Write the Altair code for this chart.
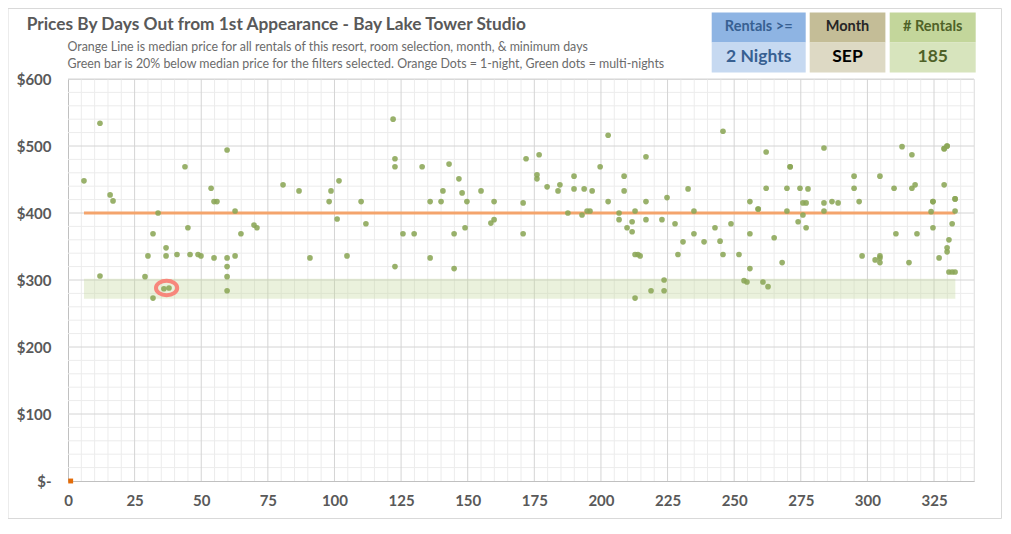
import altair as alt
import pandas as pd

# ---------------- data ----------------
days = [12.0, 6.0, 15.8, 16.9, 43.9, 59.7, 53.7, 54.8, 55.9, 80.7,
        33.8, 62.7, 45.0, 31.9, 69.8, 70.9, 64.9, 36.8, 30.0, 36.8,
        40.9, 45.8, 48.8, 49.9, 54.8, 59.7, 62.7, 59.7, 59.7, 12.0,
        28.9, 36.0, 37.9, 31.9, 59.7,
        86.7, 90.8, 98.0, 98.7, 101.7, 101.0, 104.7, 110.0, 111.8, 122.0,
        122.7, 122.7, 122.7, 125.7, 129.9, 132.9, 135.9, 135.9, 140.0, 140.7,
        143.0, 146.7, 147.9, 144.9, 144.9, 149.0, 149.7, 155.0, 159.9, 158.7,
        159.9,
        170.8, 170.8, 171.9, 176.0, 176.0, 176.8, 179.8, 183.9, 184.6, 187.6,
        189.9, 189.9, 192.9, 193.7, 194.8, 195.9, 196.7, 199.7, 202.7, 202.7,
        206.8, 206.8, 208.7, 208.7, 209.8, 211.7, 211.7, 212.8, 212.8, 213.9,
        214.7, 212.8, 216.9, 216.9, 216.9, 218.8, 222.9, 223.7, 223.7, 224.8,
        227.8, 228.9, 230.8, 232.7, 234.9, 234.9, 238.7, 242.8, 244.7, 245.8,
        245.8,
        248.8, 251.8, 253.7, 254.8, 255.9, 255.9, 255.9, 259.0, 259.0, 260.8,
        262.0, 262.0, 262.7, 265.0, 268.0, 269.8, 269.8, 271.0, 271.0, 274.0,
        274.7, 275.8, 277.0, 275.8, 277.0, 277.7, 283.7, 283.7, 283.7, 286.7,
        289.0, 295.0, 295.0, 296.9, 298.0, 302.9, 304.7, 304.7, 304.7, 304.7,
        310.0, 310.7, 313.0, 315.6, 316.7, 316.7, 317.9, 318.6, 323.9, 324.6,
        324.6, 324.6, 326.9, 328.8, 328.8, 329.9, 329.9, 328.8, 329.9, 329.9,
        330.6, 331.8, 332.9, 332.9, 332.9, 330.6, 331.8, 332.9]
prices = [534, 448, 427, 418, 469, 494, 437, 417, 417, 442,
          400, 403, 378, 369, 382, 378, 369, 348, 336, 336,
          338, 338, 338, 336, 333, 333, 336, 320, 305, 306,
          305, 287, 288, 273, 284,
          433, 333, 417, 433, 448, 391, 336, 417, 384, 540,
          481, 469, 320, 369, 369, 469, 417, 333, 417, 433,
          473, 451, 430, 369, 317, 378, 417, 433, 417, 385,
          390,
          415, 369, 481, 457, 451, 487, 439, 433, 442, 400,
          455, 436, 397, 436, 403, 403, 433, 469, 516, 417,
          400, 390, 455, 433, 378, 387, 372, 403, 338, 338,
          336, 273, 484, 417, 390, 284, 390, 300, 284, 423,
          384, 338, 357, 436, 403, 369, 357, 378, 358, 522,
          338,
          384, 338, 299, 297, 417, 369, 317, 406, 406, 297,
          491, 437, 290, 363, 326, 437, 403, 469, 469, 387,
          437, 415, 415, 397, 378, 436, 497, 415, 403, 417,
          415, 455, 437, 417, 336, 330, 336, 333, 326, 455,
          437, 369, 499, 326, 487, 437, 442, 369, 402, 417,
          417, 378, 333, 496, 496, 500, 500, 442, 348, 342,
          360, 384, 421, 421, 403, 312, 312, 312]

one_night_days = [1]
one_night_prices = [0]

median_price = 400
band_low, band_high = 272, 302
line_start, line_end = 6, 333

highlight_day = [37]
highlight_price = [288]

x_major = list(range(0, 326, 25))
x_minor = [v for v in range(5, 341, 5) if v % 25 != 0]
y_major = list(range(0, 601, 100))
y_minor = [v for v in range(20, 601, 20) if v % 100 != 0]

title_text = "Prices By Days Out from 1st Appearance - Bay Lake Tower Studio"
sub1 = "Orange Line is median price for all rentals of this resort, room selection, month, & minimum days"
sub2 = "Green bar is 20% below median price for the filters selected. Orange Dots = 1-night, Green dots = multi-nights"
box_heads = ["Rentals >=", "Month", "# Rentals"]
box_vals = ["2 Nights", "SEP", "185"]

# ---------------- chart ----------------
FONT = "Lato"
GRAY = "#595959"
xs = alt.Scale(domain=[0, 340], nice=False, zero=True)
ys = alt.Scale(domain=[0, 600], nice=False, zero=True)

xaxis = alt.Axis(values=x_major, grid=False, ticks=False, domain=True,
                 domainColor="#c0c0c0", labelFont=FONT, labelFontSize=15,
                 labelFontWeight="bold", labelColor=GRAY, labelPadding=12,
                 labelFlush=False, title=None)
yaxis = alt.Axis(values=y_major, grid=False, ticks=False, domain=True,
                 domainColor="#c0c0c0", labelFont=FONT, labelFontSize=15,
                 labelFontWeight="bold", labelColor=GRAY, labelPadding=17,
                 labelExpr="datum.value == 0 ? '$-' : '$' + datum.value", title=None)

def X(f):
    return alt.X(f, scale=xs, axis=xaxis, title=None)

def Y(f):
    return alt.Y(f, scale=ys, axis=yaxis, title=None)

df = pd.DataFrame({"day": days, "price": prices})
one_df = pd.DataFrame({"day": one_night_days, "price": one_night_prices})
hl_df = pd.DataFrame({"day": highlight_day, "price": highlight_price})
band_df = pd.DataFrame({"x1": [line_start], "x2": [line_end],
                        "y1": [band_low], "y2": [band_high], "m": [median_price]})
one = pd.DataFrame({"a": [0]})

border = alt.Chart(one).mark_rect(fillOpacity=0, stroke="#d9d9d9", strokeWidth=1).encode(
    x=alt.value(-60), x2=alt.value(933.5), y=alt.value(-70.5), y2=alt.value(439.5))

gx_minor = alt.Chart(pd.DataFrame({"g": x_minor})).mark_rule(color="#ececec", strokeWidth=1).encode(
    x=X("g:Q"))
gy_minor = alt.Chart(pd.DataFrame({"g": y_minor})).mark_rule(color="#ececec", strokeWidth=1).encode(
    y=Y("g:Q"))
gx_major = alt.Chart(pd.DataFrame({"g": x_major[1:]})).mark_rule(color="#d4d4d4", strokeWidth=1).encode(
    x=X("g:Q"))
gy_major = alt.Chart(pd.DataFrame({"g": y_major[1:]})).mark_rule(color="#d4d4d4", strokeWidth=1).encode(
    y=Y("g:Q"))

band = alt.Chart(band_df).mark_rect(color="#C4D79B", opacity=0.35).encode(
    x=X("x1:Q"), x2="x2:Q", y=Y("y1:Q"), y2="y2:Q")
med = alt.Chart(band_df).mark_rule(color="#F4A46C", strokeWidth=3).encode(
    x=X("x1:Q"), x2="x2:Q", y=Y("m:Q"))

pts = alt.Chart(df).mark_circle(size=32, color="#8BA657", opacity=0.88).encode(
    x=X("day:Q"), y=Y("price:Q"))

onept = alt.Chart(one_df).mark_point(shape="square", filled=True, size=24, color="#E36C09", opacity=1).encode(
    x=X("day:Q"), y=Y("price:Q"))

ellipse = "M -1 0 A 1 0.68 0 1 0 1 0 A 1 0.68 0 1 0 -1 0 Z"
hl = alt.Chart(hl_df).mark_point(shape=ellipse, filled=False, size=450, stroke="#F7877C",
                                 strokeWidth=4, opacity=1).encode(
    x=X("day:Q"), y=Y("price:Q"))

def txt(s, x, y, size, color, weight="bold", align="left", baseline="alphabetic"):
    return alt.Chart(one).mark_text(text=s, font=FONT, fontSize=size, fontWeight=weight,
                                    color=color, align=align, baseline=baseline).encode(
        x=alt.value(x), y=alt.value(y))

def box(x1, x2, head_col, val_col):
    return [
        alt.Chart(one).mark_rect(color=head_col).encode(
            x=alt.value(x1), x2=alt.value(x2), y=alt.value(-66.6), y2=alt.value(-36.6)),
        alt.Chart(one).mark_rect(color=val_col).encode(
            x=alt.value(x1), x2=alt.value(x2), y=alt.value(-36.6), y2=alt.value(-6.6)),
    ]

boxes = []
boxes += box(643.7, 737.7, "#8EB4E3", "#C6D9F1")
boxes += box(741.7, 817.4, "#C4BD97", "#DDD9C4")
boxes += box(821.7, 907.7, "#C3D69B", "#D7E4BD")

texts = [
    txt(title_text, -41.3, -49.5, 17.3, GRAY),
    txt(sub1, -0.5, -28.5, 12.4, "#6b6b6b", weight="normal"),
    txt(sub2, -0.5, -11.5, 12.4, "#6b6b6b", weight="normal"),
    txt(box_heads[0], 690.7, -51.6, 14.5, "#376092", align="center", baseline="middle"),
    txt(box_vals[0], 690.7, -21.6, 17.5, "#376092", align="center", baseline="middle"),
    txt(box_heads[1], 779.5, -51.6, 14.5, "#262626", align="center", baseline="middle"),
    txt(box_vals[1], 779.5, -21.6, 17.5, "#000000", align="center", baseline="middle"),
    txt(box_heads[2], 864.7, -51.6, 14.5, "#4F6228", align="center", baseline="middle"),
    txt(box_vals[2], 864.7, -21.6, 17.5, "#4F6228", align="center", baseline="middle"),
]

chart = alt.layer(
    border, gx_minor, gy_minor, gx_major, gy_major, band, med, pts, onept, hl,
    *boxes, *texts
).properties(
    width=906, height=402,
    padding={"left": 60, "top": 71, "right": 29, "bottom": 39},
    autosize=alt.AutoSizeParams(type="none"),
    background="white",
).configure_view(stroke=None).configure(font=FONT)

chart.save("out.html", embed_options={"renderer": "svg", "actions": False})
